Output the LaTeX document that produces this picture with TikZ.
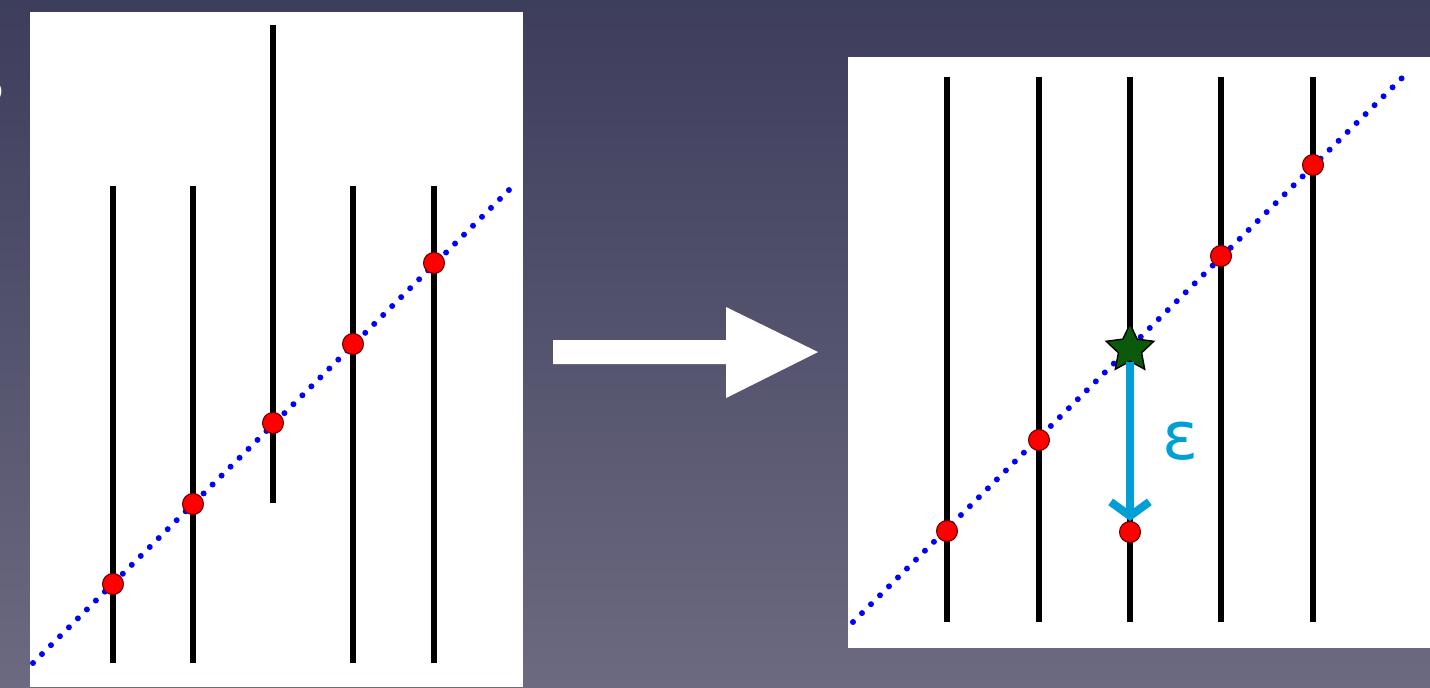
\documentclass[tikz,border=0pt]{standalone}
\usepackage{fontspec}
\newfontfamily\dejavu{DejaVu Sans}
\usetikzlibrary{arrows.meta,shapes.geometric}
\definecolor{bgtop}{HTML}{3D3D5C}
\definecolor{bgbot}{HTML}{6C6A80}
\definecolor{epsblue}{HTML}{00A0D6}
\definecolor{stargreen}{HTML}{0B5A0B}
\tikzset{
  panel/.style={fill=white, draw=none},
  vline/.style={line width=1.6pt, black},
  dotline/.style={blue, line width=1.7pt, line cap=round, dash pattern=on 0pt off 3.6pt},
  reddot/.style={circle, fill=red, draw=red!40!black, line width=0.3pt, inner sep=0pt, minimum size=0.21cm},
  greenstar/.style={star, star points=5, star point ratio=2.05, fill=stargreen, draw=black, line width=0.4pt, inner sep=0pt, minimum size=0.5cm},
  epsarrow/.style={epsblue, line width=2.3pt, -{Straight Barb[length=4pt, width=11pt, line width=2.3pt]}},
}
\begin{document}
\begin{tikzpicture}[x=0.01cm, y=-0.01cm]
\useasboundingbox (0,0) rectangle (1430,687);
\shade[top color=bgtop, bottom color=bgbot] (0,0) rectangle (1430,687);
% partial glyph at left edge
\node[anchor=base east, text=white, font=\sffamily\fontsize{19}{19}\selectfont, inner sep=0pt] (glyph) at (6,104) {S};
% panels
\fill[panel] (30,12) rectangle (523,687);
\fill[panel] (848,57) rectangle (1430,648);
% ---- left panel ----
\foreach \i/\x/\t/\b in {1/113/186/663, 2/193/186/663, 3/273/25/503, 4/353/186/663, 5/434/186/663} {
  \coordinate (Lt\i) at (\x,\t);
  \coordinate (Lb\i) at (\x,\b);
  \draw[vline] (Lt\i) -- (Lb\i);
}
\coordinate (Ls) at (33,663);
\coordinate (Le) at (515,184);
\draw[dotline] (Ls) -- (Le);
\node[reddot] (Ld1) at (113,584) {};
\node[reddot] (Ld2) at (193,504) {};
\node[reddot] (Ld3) at (273,423) {};
\node[reddot] (Ld4) at (353,344) {};
\node[reddot] (Ld5) at (434,263) {};
% ---- big arrow ----
\fill[white] (553,340) -- (726,340) -- (726,307) -- (818,352) -- (726,398) -- (726,364) -- (553,364) -- cycle;
% ---- right panel ----
\foreach \i/\x in {1/947, 2/1039, 3/1130, 4/1221, 5/1313} {
  \coordinate (Rt\i) at (\x,77);
  \coordinate (Rb\i) at (\x,622);
  \draw[vline] (Rt\i) -- (Rb\i);
}
\coordinate (Rs) at (853,622);
\coordinate (Re) at (1405,75);
\draw[dotline] (Rs) -- (Re);
\node[reddot] (Rd1) at (947,531) {};
\node[reddot] (Rd2) at (1039,440) {};
\node[reddot] (Rd3) at (1130,532) {};
\node[reddot] (Rd4) at (1221,256) {};
\node[reddot] (Rd5) at (1313,165) {};
\node[greenstar] (star) at (1130,349) {};
\draw[epsarrow] (star.south) -- (Rd3.north);
\node[text=epsblue, font=\dejavu\fontsize{19}{19}\selectfont, inner sep=0pt] (eps) at (1181,441) {ε};
\end{tikzpicture}
\end{document}
